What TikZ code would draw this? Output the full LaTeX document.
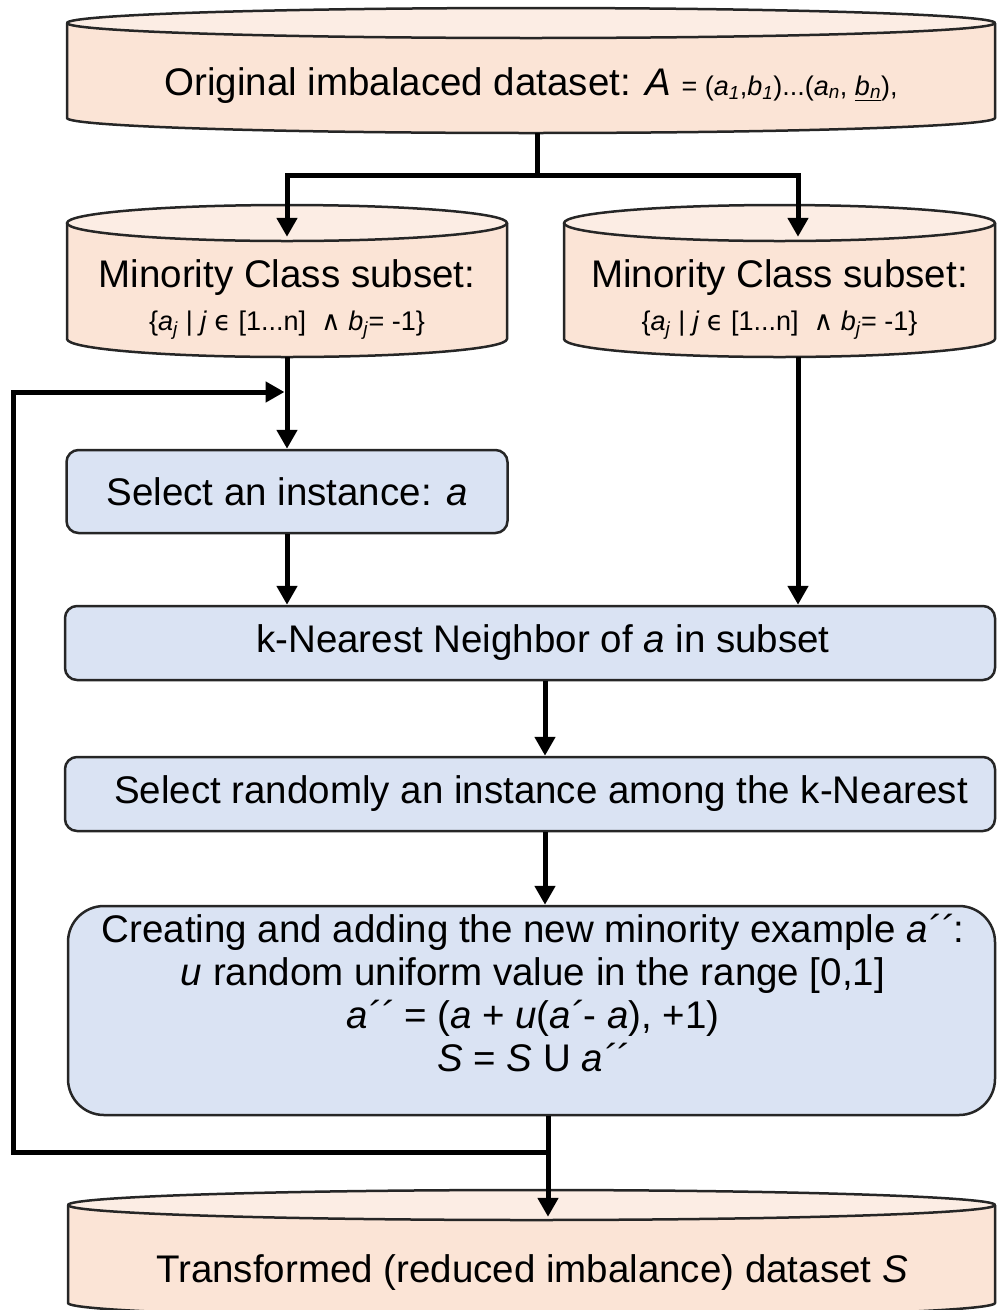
\documentclass[tikz,border=0pt]{standalone}
\usepackage{fontspec}
\setmainfont{Liberation Sans}
\newfontfamily\symfont{DejaVu Sans}
\usetikzlibrary{arrows.meta}

\definecolor{drumface}{HTML}{FBE4D6}
\definecolor{drumlid}{HTML}{FCEDE4}
\definecolor{stepfill}{HTML}{DAE3F3}
\definecolor{edgegray}{HTML}{262626}

\newcommand\bigtxt{\fontsize{38.5}{43}\selectfont}
\newcommand\smalltxt{\fontsize{27}{30}\selectfont}

\tikzset{
  drumedge/.style={draw=edgegray, line width=2.5pt, line join=round},
  stepbox/.style={draw=edgegray, line width=2.5pt, fill=stepfill,
    rounded corners=12pt, inner sep=0pt, font=\bigtxt},
  conn/.style={draw=black, line width=5pt},
  flow/.style={conn, -{Triangle[length=19pt,width=20pt]}},
  label/.style={inner sep=0pt, font=\bigtxt},
}

% drum (database cylinder): name, left x, right x, top y, bottom y, lid radius
\newcommand\drum[6]{%
  \pgfmathsetmacro\drumrx{(#3-#2)/2}%
  \pgfmathsetmacro\drumcx{(#3+#2)/2}%
  \pgfmathsetmacro\drumcy{(#4+#5)/2}%
  \pgfmathsetmacro\drumh{#5-#4}%
  \pgfmathsetmacro\drumw{#3-#2}%
  \fill[drumface] (#2,#4+#6) -- (#2,#5-#6)
    arc[start angle=180,end angle=360,x radius=\drumrx pt,y radius=#6pt]
    -- (#3,#4+#6) -- cycle;
  \fill[drumlid] (\drumcx,#4+#6) ellipse[x radius=\drumrx pt,y radius=#6pt];
  \draw[drumedge] (#3,#4+#6) -- (#3,#5-#6)
    arc[start angle=0,end angle=-180,x radius=\drumrx pt,y radius=#6pt]
    -- (#2,#4+#6);
  \draw[drumedge] (\drumcx,#4+#6) ellipse[x radius=\drumrx pt,y radius=#6pt];
  \node[inner sep=0pt, minimum width=\drumw pt, minimum height=\drumh pt] (#1) at (\drumcx,\drumcy) {};
}

\begin{document}
\begin{tikzpicture}[x=1pt,y=-1pt]
\useasboundingbox (0,0) rectangle (997,1310);

% data stores
\drum{orig}{67}{995}{8}{133}{15}
\node[label, anchor=base] (origtxt) at (531,95)
  {Original imbalaced dataset: \textit{A} {\smalltxt = (\textit{a}\textsubscript{\textit{1}},\textit{b}\textsubscript{\textit{1}})...(\textit{a}\textsubscript{\textit{n}}, \underline{\textit{b}\textsubscript{\textit{n}}}),}};

\drum{minL}{67}{507}{205}{357}{18}
\node[label, anchor=base] (minLtxt) at (287,287) {Minority Class subset:};
\node[inner sep=0pt, font=\smalltxt, anchor=base] (minLset) at (287,330)
  {\{\textit{a}\textsubscript{\textit{j}} | \textit{j} {\symfont ϵ} [1...n] \ {\symfont ∧} \textit{b}\textsubscript{\textit{j}}= -1\}};

\drum{minR}{564}{995}{205}{357}{18}
\node[label, anchor=base] (minRtxt) at (779.5,287) {Minority Class subset:};
\node[inner sep=0pt, font=\smalltxt, anchor=base] (minRset) at (779.5,330)
  {\{\textit{a}\textsubscript{\textit{j}} | \textit{j} {\symfont ϵ} [1...n] \ {\symfont ∧} \textit{b}\textsubscript{\textit{j}}= -1\}};

\drum{result}{68}{995}{1190}{1318}{15}
\node[label, anchor=base] (restxt) at (532,1282)
  {Transformed (reduced imbalance) dataset \textit{S}};

% processing steps
\node[stepbox, minimum width=441pt, minimum height=83pt] (sel) at (287,491.5)
  {Select an instance: \textit{a}};
\node[stepbox, minimum width=930pt, minimum height=74pt] (knn) at (530,643)
  {\hspace*{26pt}k-Nearest Neighbor of \textit{a} in subset};
\node[stepbox, minimum width=930pt, minimum height=74pt] (rand) at (530,794)
  {\hspace*{22pt}Select randomly an instance among the k-Nearest};
\node[stepbox, rounded corners=36pt, minimum width=927pt, minimum height=209pt] (create) at (531.5,1010.5) {};
\node[label, align=center, anchor=north] (createtxt) at (533,914)
  {Creating and adding the new minority example \textit{a´´}:\\
   \textit{u} random uniform value in the range [0,1]\\
   \textit{a´´} = (\textit{a} + \textit{u}(\textit{a´}- \textit{a}), +1)\\
   \textit{S} = \textit{S} U \textit{a´´}};

% connectors
\coordinate (split) at (537,175);
\draw[conn] (orig.south -| split) -- (split);
\draw[flow, shorten >=-32pt] (split) -| (minL.north);
\draw[flow, shorten >=-32pt] (split) -| ([xshift=18.5pt]minR.north);

\draw[flow] (minL.south) -- (sel.north);
\draw[flow] (sel.south) -- (sel.south |- knn.north);
\draw[flow] ([xshift=18.5pt]minR.south) -- ([xshift=18.5pt]minR.south |- knn.north);

\coordinate (spine) at (545,700);
\draw[flow] (knn.south -| spine) -- (rand.north -| spine);
\draw[flow] (rand.south -| spine) -- (create.north -| spine);

\coordinate (merge) at (548,1152);
\draw[flow, shorten >=-27pt] (create.south -| merge) -- (result.north -| merge);

% loop back to the next instance
\coordinate (loopcorner) at (13,392);
\draw[flow, shorten >=2.5pt] (merge) -| (loopcorner) -- (minL.south |- loopcorner);
\end{tikzpicture}
\end{document}
